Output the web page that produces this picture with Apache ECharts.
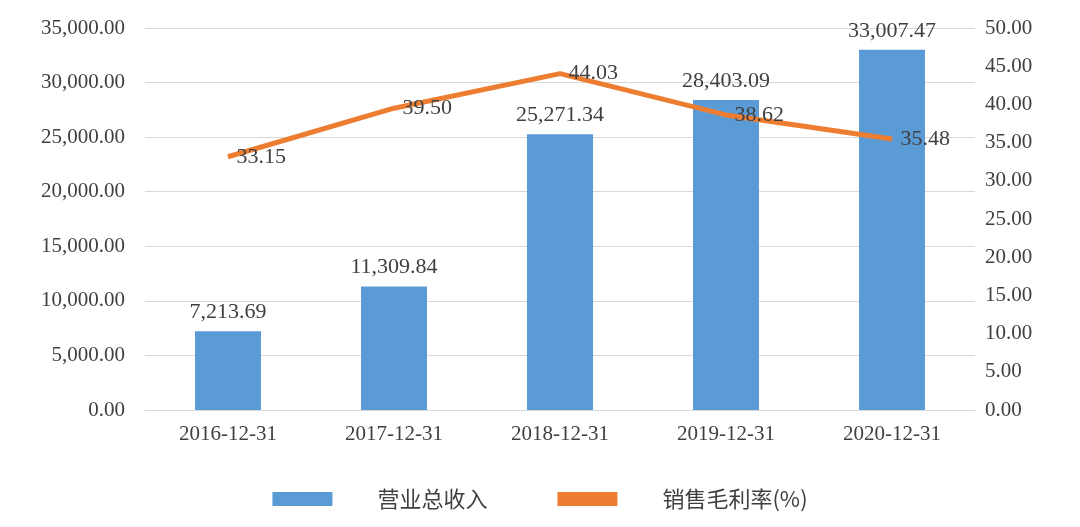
<!DOCTYPE html>
<html><head><meta charset="utf-8">
<script src="https://cdn.jsdelivr.net/npm/echarts@6/dist/echarts.min.js"></script>
<style>html,body{margin:0;padding:0;background:#fff}#c{width:1080px;height:527px}</style>
</head><body><div id="c"></div>
<script>
const categories = ['2016-12-31','2017-12-31','2018-12-31','2019-12-31','2020-12-31'];
const revenue = [7213.69, 11309.84, 25271.34, 28403.09, 33007.47];
const margin = [33.15, 39.50, 44.03, 38.62, 35.48];
const fmt = v => v.toLocaleString('en-US',{minimumFractionDigits:2,maximumFractionDigits:2});
const serif = 'Liberation Serif, Times New Roman, serif';
const chart = echarts.init(document.getElementById('c'));
chart.setOption({
  animation:false,
  grid:{left:145,right:105,top:28,bottom:117},
  legend:{bottom:12,left:'center',itemGap:70,itemWidth:60,itemHeight:14,
    textStyle:{fontFamily:'Noto Sans CJK SC',fontSize:22,color:'#404040',padding:[0,0,0,40]},
    data:[{name:'营业总收入',icon:'rect'},{name:'销售毛利率(%)',icon:'rect',itemStyle:{color:'#ED7D31'}}]},
  xAxis:{type:'category',data:categories,
    axisLine:{lineStyle:{color:'#d9d9d9'}},axisTick:{show:false},
    axisLabel:{fontFamily:serif,fontSize:21,color:'#404040',margin:14}},
  yAxis:[
    {type:'value',min:0,max:35000,interval:5000,
     axisLabel:{fontFamily:serif,fontSize:21,color:'#404040',formatter:v=>fmt(v),margin:20},
     splitLine:{lineStyle:{color:'#d9d9d9'}}},
    {type:'value',min:0,max:50,interval:5,
     axisLabel:{fontFamily:serif,fontSize:21,color:'#404040',formatter:v=>v.toFixed(2),margin:10},
     splitLine:{show:false}}
  ],
  series:[
    {name:'营业总收入',type:'bar',data:revenue,barWidth:66,itemStyle:{color:'#5B9BD5'},
     label:{show:true,position:'top',fontFamily:serif,fontSize:22,color:'#404040',distance:8,formatter:p=>fmt(p.value)}},
    {name:'销售毛利率(%)',type:'line',yAxisIndex:1,data:margin,symbol:'circle',symbolSize:1,showSymbol:true,
     lineStyle:{color:'#ED7D31',width:5},itemStyle:{color:'#ED7D31'},
     labelLayout:{hideOverlap:false},
     label:{show:true,position:'right',distance:8,fontFamily:serif,fontSize:22,color:'#404040',formatter:p=>p.value.toFixed(2)}}
  ]
});
</script></body></html>
